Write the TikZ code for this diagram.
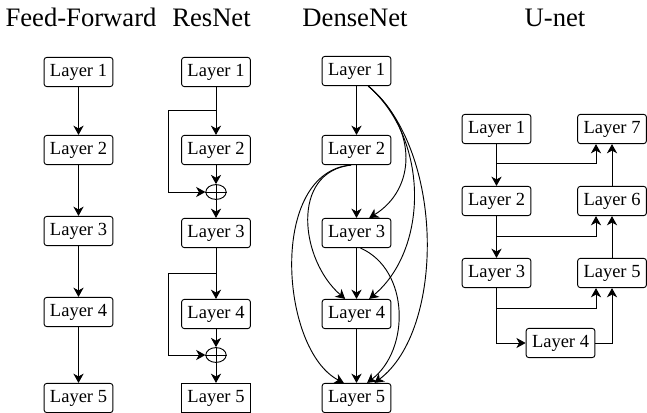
\documentclass[tikz,border=0pt]{standalone}
\usepackage{fontspec}
\setmainfont{Liberation Serif}
\newfontfamily\libser{Liberation Serif}
\usetikzlibrary{arrows.meta,shapes.geometric}
\begin{document}
\begin{tikzpicture}[x=0.5405pt,y=-0.5405pt,
  lay/.style={draw, rounded corners=1.5pt, font=\libser\fontsize{10}{12}\selectfont, inner xsep=3.2pt, inner ysep=2pt, minimum height=15.8pt, line width=0.5pt},
  sq/.style={lay, sharp corners},
  ttl/.style={font=\libser\fontsize{14.4}{17}\selectfont, anchor=base, inner sep=0pt},
  arr/.style={-{Stealth[length=5pt,width=5.5pt,inset=1.5pt]}, line width=0.5pt},
  plus/.style={draw, ellipse, minimum width=11pt, minimum height=8pt, inner sep=0pt, line width=0.5pt}]
\clip (0,0) rectangle (647,412);
% titles
\node[ttl] (t1) at (81,27) {Feed-Forward};
\node[ttl] (t2) at (211.5,27) {ResNet};
\node[ttl] (t3) at (355,27) {DenseNet};
\node[ttl] (t4) at (555,27) {U-net};
% Feed-forward
\node[lay] (f1) at (78.5,72) {Layer 1};
\node[lay] (f2) at (78.5,150) {Layer 2};
\node[lay] (f3) at (78.5,231) {Layer 3};
\node[lay] (f4) at (78.5,312) {Layer 4};
\node[lay] (f5) at (78.5,398) {Layer 5};
\draw[arr] (f1) -- (f2);
\draw[arr] (f2) -- (f3);
\draw[arr] (f3) -- (f4);
\draw[arr] (f4) -- (f5);
% ResNet
\node[lay] (r1) at (216,72) {Layer 1};
\node[lay] (r2) at (216,150) {Layer 2};
\node[plus] (p1) at (216,192) {};
\draw[line width=0.5pt] (p1.north) -- (p1.south) (p1.west) -- (p1.east);
\node[lay] (r3) at (216,233) {Layer 3};
\node[lay] (r4) at (216,314) {Layer 4};
\node[plus] (p2) at (216,355) {};
\draw[line width=0.5pt] (p2.north) -- (p2.south) (p2.west) -- (p2.east);
\node[sq] (r5) at (216,398) {Layer 5};
\coordinate (rl) at (168,0);
\coordinate (rb1) at (216,110);
\coordinate (rb2) at (216,273);
\draw[arr] (r1) -- (r2);
\draw[arr] (r2) -- (p1);
\draw[arr] (p1) -- (r3);
\draw[arr] (rb1) -- (rb1 -| rl) |- (p1);
\draw[arr] (r3) -- (r4);
\draw[arr] (r4) -- (p2);
\draw[arr] (p2) -- (r5);
\draw[arr] (rb2) -- (rb2 -| rl) |- (p2);
% DenseNet
\node[lay] (d1) at (356.5,71) {Layer 1};
\node[lay] (d2) at (356.5,150) {Layer 2};
\node[lay] (d3) at (356.5,233) {Layer 3};
\node[lay] (d4) at (356.5,314) {Layer 4};
\node[lay] (d5) at (356.5,398) {Layer 5};
\draw[arr] (d1) -- (d2);
\draw[arr] (d2) -- (d3);
\draw[arr] (d3) -- (d4);
\draw[arr] (d4) -- (d5);
\draw[arr] (d1.-52) .. controls (420,130) and (415,190) .. (d3.50);
\draw[arr] (d1.-52) .. controls (430,140) and (428,250) .. (d4.50);
\draw[arr] (d1.-52) .. controls (445,150) and (445,330) .. (d5.40);
\draw[arr] (d2.-110) .. controls (290,172) and (300,260) .. (d4.127);
\draw[arr] (d2.-110) .. controls (268,172) and (280,350) .. (d5.130);
\draw[arr] (d3.-75) .. controls (410,270) and (410,350) .. (d5.55);
% U-net
\node[lay] (u1) at (496.5,129) {Layer 1};
\node[lay] (u2) at (496.5,201) {Layer 2};
\node[lay] (u3) at (496.5,273) {Layer 3};
\node[lay] (u4) at (560.5,343) {Layer 4};
\node[lay] (u5) at (612,273) {Layer 5};
\node[lay] (u6) at (612,201) {Layer 6};
\node[lay] (u7) at (612,129) {Layer 7};
\coordinate (ux) at (596,0);
\coordinate (ub1) at (496.5,163);
\coordinate (ub2) at (496.5,236);
\coordinate (ub3) at (496.5,308);
\draw[arr] (u1) -- (u2);
\draw[arr] (ub1) -| (u7.south -| ux);
\draw[arr] (u6) -- (u7);
\draw[arr] (u2) -- (u3);
\draw[arr] (ub2) -| (u6.south -| ux);
\draw[arr] (u5) -- (u6);
\draw[arr] (u3.south) |- (u4.west);
\draw[arr] (ub3) -| (u5.south -| ux);
\draw[arr] (u4.east) -| (u5.south);
\end{tikzpicture}
\end{document}
